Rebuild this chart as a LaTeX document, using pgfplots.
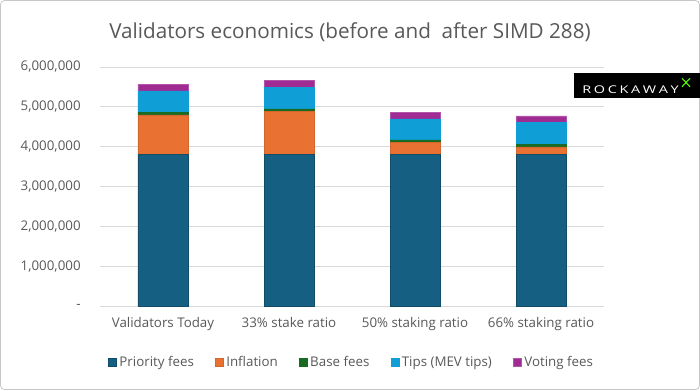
\documentclass[border=0pt]{standalone}
\usepackage{fontspec}
\setmainfont{Open Sans}
\setsansfont{Open Sans}
\usepackage{graphicx}
\usepackage{pgfplots}
\usepackage{pgfplotstable}
\pgfplotsset{compat=1.18}
\definecolor{cPri}{HTML}{156082}
\definecolor{cInf}{HTML}{E97132}
\definecolor{cBase}{HTML}{196B24}
\definecolor{cTips}{HTML}{0F9ED5}
\definecolor{cVote}{HTML}{A02B93}
\definecolor{txt}{HTML}{595959}
\definecolor{gridc}{HTML}{D9D9D9}
\pgfplotstableread{
x pri inf base tips vote
0 3800000 1000000 60000 540000 170000
1 3800000 1080000 70000 535000 175000
2 3800000 300000 70000 530000 170000
3 3800000 195000 70000 540000 170000
}\data
\newcommand{\logoletter}[1]{\scalebox{1.35}[1]{#1}}
\begin{document}
\begin{tikzpicture}
\useasboundingbox (0,0) rectangle (525pt,292.5pt);
\fill[white] (0,0) rectangle (525pt,292.5pt);
\draw[gridc!80!gray, line width=0.6pt, rounded corners=3pt] (0.4pt,0.4pt) rectangle (524.6pt,292.1pt);
\node[text=txt, font=\fontsize{15.5}{18}\selectfont] at (262.5pt,268pt) {Validators economics (before and\ \ after SIMD 288)};
\begin{axis}[
  at={(75pt,63pt)}, anchor=south west,
  scale only axis, width=378pt, height=179.25pt,
  xmin=-0.5, xmax=3.5, ymin=0, ymax=6000000,
  ybar stacked, bar width=37.5pt,
  axis line style={draw=none},
  major tick length=0pt,
  ymajorgrids, xmajorgrids=false, grid style={draw=gridc, line width=0.75pt},
  ytick={0,1000000,2000000,3000000,4000000,5000000,6000000},
  yticklabels={{-},{1,000,000},{2,000,000},{3,000,000},{4,000,000},{5,000,000},{6,000,000}},
  xtick={0,1,2,3},
  xticklabels={Validators Today,33\% stake ratio,50\% staking ratio,66\% staking ratio},
  scaled y ticks=false,
  tick label style={text=txt, font=\fontsize{10}{12}\selectfont},
  yticklabel style={xshift=-11pt},
  xticklabel style={yshift=-5pt},
  legend columns=5,
  legend style={at={(0.5,-0.235)}, anchor=center, draw=none, fill=none,
    font=\fontsize{10}{12}\selectfont, text=txt,
    /tikz/every even column/.append style={column sep=14pt}},
  legend image code/.code={\fill[#1] (0pt,-3pt) rectangle (6pt,3pt);},
]
\addplot[fill=cPri, draw=cPri!80!black, line width=0.3pt] table[x=x,y=pri]{\data};
\addplot[fill=cInf, draw=cInf!90!black, line width=0.3pt] table[x=x,y=inf]{\data};
\addplot[fill=cBase, draw=cBase, line width=0.3pt] table[x=x,y=base]{\data};
\addplot[fill=cTips, draw=cTips, line width=0.3pt] table[x=x,y=tips]{\data};
\addplot[fill=cVote, draw=cVote!80!white, line width=0.3pt] table[x=x,y=vote]{\data};
\legend{Priority fees, Inflation, Base fees, Tips (MEV tips), Voting fees}
\end{axis}
\fill[black] (430.5pt,219pt) rectangle (525pt,237.75pt);
\node[text=white, font=\sffamily\fontsize{8}{9}\selectfont, anchor=center, inner sep=0pt] at (472.9pt,225.4pt) {\logoletter{R}\kern2pt\logoletter{O}\kern2pt\logoletter{C}\kern2pt\logoletter{K}\kern2pt\logoletter{A}\kern2pt\logoletter{W}\kern2pt\logoletter{A}\kern2pt\logoletter{Y}};
\draw[green!70!yellow, line width=0.8pt] (511.5pt,233.8pt) -- (514.5pt,230.6pt) -- (511.5pt,227.4pt) (517.5pt,233.8pt) -- (514.5pt,230.6pt) -- (517.5pt,227.4pt);
\end{tikzpicture}
\end{document}
